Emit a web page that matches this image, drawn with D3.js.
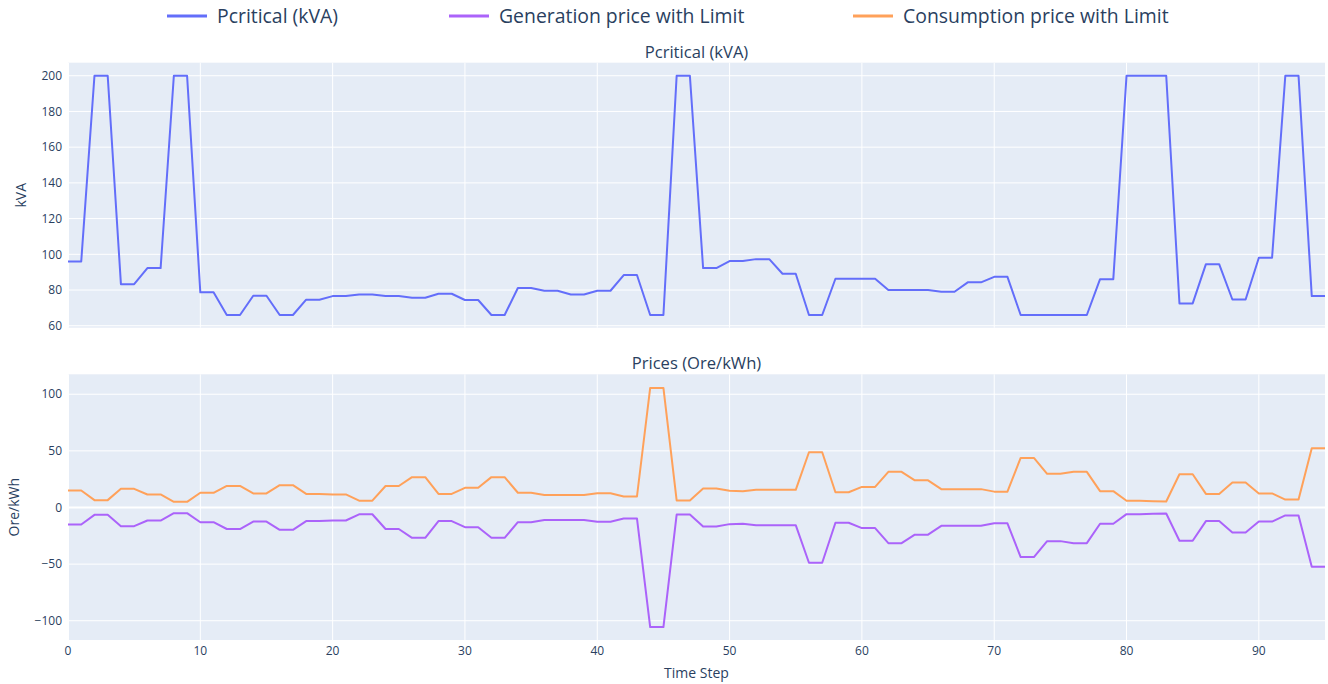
<!DOCTYPE html>
<html><head><meta charset="utf-8">
<script src="https://cdn.jsdelivr.net/npm/d3@7"></script>
<style>body{margin:0;background:#fff;} text{font-family:"Open Sans",verdana,arial,sans-serif;}</style>
</head><body><svg id="c" width="1328" height="684"></svg>
<script>
const steps = d3.range(0, 96);
const pcritical = [96,96,200,200,83.3,83.3,92.3,92.3,200,200,
78.7,78.7,66,66,76.8,76.8,66,66,74.6,74.6,
76.6,76.6,77.5,77.5,76.6,76.6,75.7,75.7,77.9,77.9,
74.4,74.4,66,66,81.1,81.1,79.6,79.6,77.5,77.5,
79.6,79.6,88.4,88.4,66,66,200,200,92.3,92.3,
96.2,96.2,97.3,97.3,89.1,89.1,66,66,86.3,86.3,
86.3,86.3,80,80,80,80,79,79,84.3,84.3,
87.4,87.4,66,66,66,66,66,66,86.1,86.1,
200,200,200,200,72.5,72.5,94.5,94.5,74.7,74.7,
98.1,98.1,200,200,76.6,76.6];
const consumption = [15,15,6.5,6.5,16.5,16.5,11.5,11.5,5,5,
13,13,19,19,12.4,12.4,19.7,19.7,12,12,
11.5,11.5,6,6,19,19,26.8,26.8,12,12,
17.4,17.4,26.8,26.8,13,13,11,11,11,11,
12.6,12.6,9.7,9.7,105.6,105.6,6.2,6.2,16.8,16.8,
14.7,14.4,15.6,15.6,15.6,15.6,48.8,48.8,13.5,13.5,
18.2,18.2,31.5,31.5,24,24,16.2,16.2,16.2,16.2,
14,14,43.8,43.8,29.7,29.7,31.5,31.5,14.4,14.4,
5.9,5.9,5.6,5.3,29.4,29.4,12,12,22,22,
12.4,12.4,7,7,52.4,52.4];
const generation = [-15,-15,-6.5,-6.5,-16.5,-16.5,-11.5,-11.5,-5,-5,
-13,-13,-19,-19,-12.4,-12.4,-19.7,-19.7,-12,-12,
-11.5,-11.5,-6,-6,-19,-19,-26.8,-26.8,-12,-12,
-17.4,-17.4,-26.8,-26.8,-13,-13,-11,-11,-11,-11,
-12.6,-12.6,-9.7,-9.7,-105.6,-105.6,-6.2,-6.2,-16.8,-16.8,
-14.7,-14.4,-15.6,-15.6,-15.6,-15.6,-48.8,-48.8,-13.5,-13.5,
-18.2,-18.2,-31.5,-31.5,-24,-24,-16.2,-16.2,-16.2,-16.2,
-14,-14,-43.8,-43.8,-29.7,-29.7,-31.5,-31.5,-14.4,-14.4,
-5.9,-5.9,-5.6,-5.3,-29.4,-29.4,-12,-12,-22,-22,
-12.4,-12.4,-7,-7,-52.4,-52.4];
const xTicks = [0,10,20,30,40,50,60,70,80,90];
const topTicks = [60,80,100,120,140,160,180,200];
const botTicks = [-100,-50,0,50,100];
const seriesNames = ["Pcritical (kVA)","Generation price with Limit","Consumption price with Limit"];
const colors = ["#636efa","#ab63fa","#FFA15A"];
const titles = ["Pcritical (kVA)","Prices (Ore/kWh)"];

const svg = d3.select("#c");
const L = 68, R = 1325;
const x = d3.scaleLinear().domain([0,95]).range([L,R]);
const panels = [
  {top:62.7, bot:327.7, dom:[58.9,207.3], ticks:topTicks, title:titles[0], ylab:"kVA", ylx:22,
   series:[{v:pcritical,c:colors[0]}], showX:false},
  {top:374.3, bot:640, dom:[-117,117.6], ticks:botTicks, title:titles[1], ylab:"Ore/kWh", ylx:15,
   series:[{v:generation,c:colors[1]},{v:consumption,c:colors[2]}], showX:true}
];
const txt = "#2a3f5f";
panels.forEach(p => {
  const y = d3.scaleLinear().domain(p.dom).range([p.bot,p.top]);
  const g = svg.append("g");
  g.append("rect").attr("x",L).attr("y",p.top).attr("width",R-L).attr("height",p.bot-p.top).attr("fill","#E5ECF6");
  g.selectAll(".vg").data(xTicks).enter().append("line")
    .attr("x1",d=>x(d)).attr("x2",d=>x(d)).attr("y1",p.top).attr("y2",p.bot)
    .attr("stroke","#fff").attr("stroke-width",d=>d===0?2:1);
  g.selectAll(".hg").data(p.ticks).enter().append("line")
    .attr("x1",L).attr("x2",R).attr("y1",d=>y(d)).attr("y2",d=>y(d))
    .attr("stroke","#fff").attr("stroke-width",d=>d===0?2:1);
  const fmt = d3.format("d");
  g.selectAll(".yl").data(p.ticks).enter().append("text")
    .attr("x",L-6).attr("y",d=>y(d)).attr("dy","0.35em").attr("text-anchor","end")
    .attr("font-size",12).attr("fill",txt).text(d=>fmt(d));
  if (p.showX) {
    g.selectAll(".xl").data(xTicks).enter().append("text")
      .attr("x",d=>x(d)).attr("y",p.bot+15).attr("text-anchor","middle")
      .attr("font-size",12).attr("fill",txt).text(d=>d);
  }
  g.append("text").attr("x",(L+R)/2).attr("y",p.top-5).attr("text-anchor","middle")
    .attr("font-size",16.6).attr("fill",txt).text(p.title);
  const ym = (p.top+p.bot)/2;
  g.append("text").attr("transform",`translate(${p.ylx+4},${ym}) rotate(-90)`).attr("text-anchor","middle")
    .attr("font-size",14).attr("fill",txt).text(p.ylab);
  const line = d3.line().x((d,i)=>x(steps[i])).y(d=>y(d));
  const cg = g.append("g");
  p.series.forEach(s => {
    cg.append("path").datum(s.v).attr("d",line).attr("fill","none")
      .attr("stroke",s.c).attr("stroke-width",2).attr("stroke-linejoin","round");
  });
});
svg.append("text").attr("x",(L+R)/2).attr("y",678).attr("text-anchor","middle")
  .attr("font-size",14).attr("fill",txt).text("Time Step");
const legTextX = [217,499,903];
seriesNames.forEach((n,i)=>{
  const g = svg.append("g");
  g.append("line").attr("x1",legTextX[i]-50).attr("x2",legTextX[i]-10).attr("y1",16).attr("y2",16)
    .attr("stroke",colors[i]).attr("stroke-width",3);
  g.append("text").attr("x",legTextX[i]).attr("y",16).attr("dy","0.35em")
    .attr("font-size",19.4).attr("fill",txt).text(n);
});
</script></body></html>
